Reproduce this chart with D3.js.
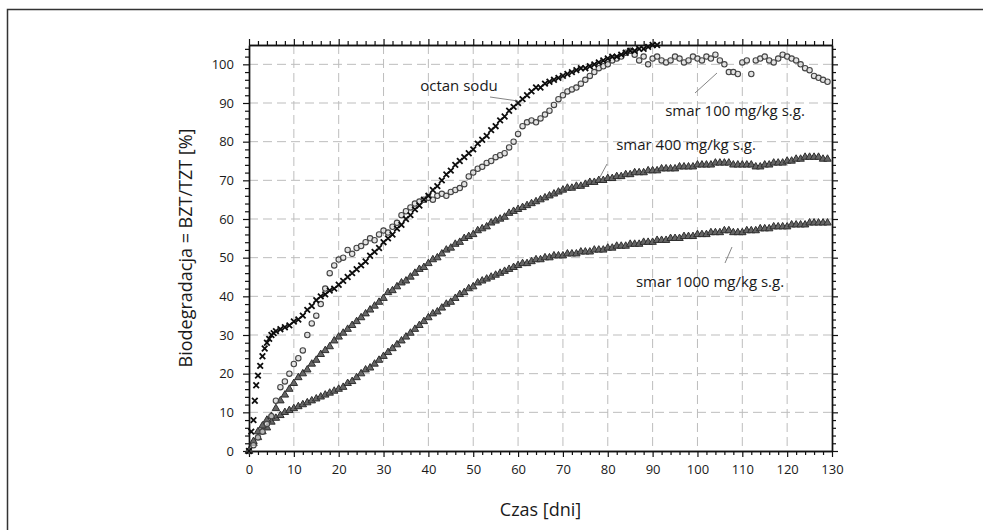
<!DOCTYPE html>
<html>
<head>
<meta charset="utf-8">
<script src="https://cdn.jsdelivr.net/npm/d3@7"></script>
<style>
  body { margin:0; background:#fff; }
  svg text { font-family:"Open Sans", "Noto Sans", sans-serif; fill:#1a1a1a; }
</style>
</head>
<body>
<svg id="chart" width="983" height="530"></svg>
<script>
// ---- data ----
const xTicks=[0,10,20,30,40,50,60,70,80,90,100,110,120,130];
const yTicks=[0,10,20,30,40,50,60,70,80,90,100];

// octan sodu (crosses)
const octanDays=[0,0.5,1,1.3,1.6,2,2.5,3,3.5,4,4.5,5,5.5,6,7,8,9,10,11,12,13,14,15,16,17,18,19,20,21,22,23,24,25,26,27,28,29,30,
  31,32,33,34,35,36,37,38,39,40,41,42,43,44,45,46,47,48,49,50,51,52,53,54,55,56,57,58,59,60,61,62,63,64,65,66,67,68,69,70,
  71,72,73,74,75,76,77,78,79,80,81,82,83,84,85,86,87,88,89,90,91];
const octanValues=[0,5,8,13,17,19.5,22,24.5,26.5,28,29,30,30.5,31,31.5,32,32.5,33.5,34,35,36.5,37.5,39,40,40.5,41.5,42,43,44,45,46,47,48,49,50.5,51.5,52.5,54,
  55,56,57.5,58.5,60,61,62.5,63.5,65,66,67.5,68.5,70,71.5,72.5,74,75,76,77,78,79.5,80.5,81.5,83,84,85.5,86.5,88,89,90,91,92,93,94,94,95,95.5,96,96.5,97,
  97.5,98,98.5,99,99,99.5,100,100.5,101,101.5,102,102,102.5,103,103.5,103.5,104,104,104.5,105,105];

// smar 100 mg/kg s.g. (circles)
const s100Days=d3.range(0,130);
const s100Values=[0,1.5,3.5,5,7,9,13,16.5,18,20,22.5,24,26,30,33,35,38,42,46,48,49.5,50,52,51,52.5,53,54,55,54.5,56,
  57,56.5,58,59,61,62,63,64,64.5,65,65.5,65,66,66.5,66,67,67.5,68,69,71,72,73,73.5,74.5,75,76,76.5,77,78.5,80,
  82,84,85,85.5,85,86,87,88,89.5,91,92,93,93.5,94,95,96,97,98,99,99.5,100,101,101.5,102,103,103.5,102.5,101,102,100,
  101.5,102,101,100.5,101,102,101.5,100.5,101,102,101.5,101,102,101.5,102.5,101,100,98,98,97.5,100.5,101,97.5,101,101.5,102,
  101,100.5,101.5,102.5,102,101.5,101,100,99,98.5,97,96.5,96,95.5];

// smar 400 mg/kg s.g. (triangles)
const s400Days=d3.range(0,130);
const s400Values=[0,2.5,5,6.5,8,9,11,13,14.5,16,17.5,19,20,21,22.5,23.5,25,26,27,28.5,29.5,30.5,31.5,32.5,33.5,34.5,35.5,36.5,37.5,38.5,
  39.5,41,41.5,42.5,43.5,44,45,46,47,47.5,48.5,49.5,50,51,52,52.5,53.5,54,55,55.5,56,57,57.5,58,59,59.5,60,60.5,61.5,62,
  62.5,63,63.5,64,64.5,65,65.5,66,66.5,67,67.5,68,68,68.5,68.5,69,69.5,69.5,70,70,70.5,70.5,71,71,71.5,71.5,72,72,72,72.5,
  72.5,72.5,73,73,73,73,73.5,73.5,73.5,73.5,74,74,74,74,74.5,74.5,74.5,74.5,74,74,74,74,74,73.5,73.5,74,74,74.5,74.5,74.5,
  75,75,75.5,75.5,76,76,76,76,75.5,75.5];

// smar 1000 mg/kg s.g. (triangles)
const s1000Days=d3.range(0,130);
const s1000Values=[0,2,3.5,5,6,7.5,8.5,9.2,10,10.5,11,11.5,12,12.5,13,13.5,14,14.5,15,15.5,16,16.5,17.5,18,19,20,21,21.5,22.5,23.5,
  24.5,25.5,26.5,27.5,28.5,29.5,30.5,31.5,32.5,33.5,34.5,35.5,36,37,38,38.5,39.5,40.5,41,42,42.5,43.5,44,44.5,45,45.5,46,46.5,47,47.5,
  48,48.5,48.5,49,49.5,49.5,50,50,50.5,50.5,50.5,51,51,51,51.5,51.5,51.5,52,52,52,52.5,52.5,53,53,53,53.5,53.5,53.5,54,54,
  54,54.5,54.5,54.5,55,55,55,55.5,55.5,55.5,56,56,56,56.5,56.5,56.5,57,57,56.5,56.5,56.5,57,57,57,57.5,57.5,57.5,58,58,58,
  58,58.5,58.5,58.5,58.5,59,59,59,59,59];

const labels=['octan sodu','smar 100 mg/kg s.g.','smar 400 mg/kg s.g.','smar 1000 mg/kg s.g.'];

// ---- layout ----
const svg=d3.select('#chart');
const pLeft=249, pRight=832, pTop=45, pBottom=451;

const x=d3.scaleLinear().domain([0,130]).range([pLeft,pRight]);
const y=d3.scaleLinear().domain([0,105]).range([pBottom,pTop]);

// outer frame (only top and left edges are inside the window)
svg.append('path')
   .attr('d','M7.5,531 L7.5,9.5 L984,9.5')
   .attr('fill','none').attr('stroke','#333').attr('stroke-width',1.5);

// dashed grid
const grid=svg.append('g').attr('class','grid');
grid.selectAll('line.v').data(xTicks.slice(1,-1)).join('line')
    .attr('x1',d=>x(d)).attr('x2',d=>x(d)).attr('y1',pTop).attr('y2',pBottom)
    .attr('stroke','#bdbdbd').attr('stroke-dasharray','9,5').attr('stroke-width',1);
grid.selectAll('line.h').data(yTicks.slice(1)).join('line')
    .attr('y1',d=>y(d)).attr('y2',d=>y(d)).attr('x1',pLeft).attr('x2',pRight)
    .attr('stroke','#bdbdbd').attr('stroke-dasharray','9,5').attr('stroke-width',1);

// axes: majors + minor ticks every 2 units, ticks outward on all four sides
const xMinor=d3.range(0,131,2).filter(d=>d%10!=0);
const yMinor=d3.range(0,106,2).filter(d=>d%10!=0);

function styleAxis(g) {
  g.select('.domain').attr('stroke','#111').attr('stroke-width',1.4);
  g.selectAll('.tick line').attr('stroke','#111').attr('stroke-width',1.2);
  g.selectAll('.tick text').attr('font-size',13).attr('fill','#1a1a1a');
}

svg.append('g').attr('transform',`translate(0,${pBottom})`)
   .call(d3.axisBottom(x).tickValues(xTicks).tickSize(6).tickSizeOuter(0).tickPadding(8))
   .call(styleAxis);
svg.append('g').attr('transform',`translate(0,${pBottom})`)
   .call(d3.axisBottom(x).tickValues(xMinor).tickSize(4).tickFormat('').tickSizeOuter(0))
   .call(styleAxis);

svg.append('g').attr('transform',`translate(0,${pTop})`)
   .call(d3.axisTop(x).tickValues(xTicks).tickSize(6).tickFormat('').tickSizeOuter(0))
   .call(styleAxis);
svg.append('g').attr('transform',`translate(0,${pTop})`)
   .call(d3.axisTop(x).tickValues(xMinor).tickSize(4).tickFormat('').tickSizeOuter(0))
   .call(styleAxis);

svg.append('g').attr('transform',`translate(${pLeft},0)`)
   .call(d3.axisLeft(y).tickValues(yTicks).tickSize(6).tickSizeOuter(0).tickPadding(9))
   .call(styleAxis);
svg.append('g').attr('transform',`translate(${pLeft},0)`)
   .call(d3.axisLeft(y).tickValues(yMinor).tickSize(4).tickFormat('').tickSizeOuter(0))
   .call(styleAxis);

svg.append('g').attr('transform',`translate(${pRight},0)`)
   .call(d3.axisRight(y).tickValues(yTicks).tickSize(6).tickFormat('').tickSizeOuter(0))
   .call(styleAxis);
svg.append('g').attr('transform',`translate(${pRight},0)`)
   .call(d3.axisRight(y).tickValues(yMinor).tickSize(4).tickFormat('').tickSizeOuter(0))
   .call(styleAxis);

// axis titles
svg.append('text')
   .attr('x',(pLeft+pRight)/2).attr('y',516)
   .attr('text-anchor','middle').attr('font-size',18)
   .text('Czas [dni]');
svg.append('text')
   .attr('transform',`translate(192,${(pTop+pBottom)/2}) rotate(-90)`)
   .attr('text-anchor','middle').attr('font-size',18)
   .text('Biodegradacja = BZT/TZT [%]');

// ---- markers ----
const plot=svg.append('g');
const tri=d3.symbol().type(d3.symbolTriangle).size(24);

function pts(days,vals) { return days.map((d,i)=>({d:d,v:vals[i]})); }

plot.append('g').selectAll('path').data(pts(s1000Days,s1000Values)).join('path')
    .attr('d',tri).attr('transform',p=>`translate(${x(p.d)},${y(p.v)})`)
    .attr('fill','#666').attr('stroke','#2e2e2e').attr('stroke-width',1);

plot.append('g').selectAll('path').data(pts(s400Days,s400Values)).join('path')
    .attr('d',tri).attr('transform',p=>`translate(${x(p.d)},${y(p.v)})`)
    .attr('fill','#666').attr('stroke','#2e2e2e').attr('stroke-width',1);

plot.append('g').selectAll('circle').data(pts(s100Days,s100Values)).join('circle')
    .attr('cx',p=>x(p.d)).attr('cy',p=>y(p.v)).attr('r',2.7)
    .attr('fill','#d8d8d8').attr('fill-opacity',0.7).attr('stroke','#444').attr('stroke-width',1.1);

plot.append('g').selectAll('path').data(pts(octanDays,octanValues)).join('path')
    .attr('d','M-2.8,-2.8L2.8,2.8M-2.8,2.8L2.8,-2.8')
    .attr('transform',p=>`translate(${x(p.d)},${y(p.v)})`)
    .attr('fill','none').attr('stroke','#0d0d0d').attr('stroke-width',1.8);

// ---- annotations ----
const ann=svg.append('g');
const annot=[
  {t:labels[0], tx:459, ty:91, l:[[490,97],[518,101]]},
  {t:labels[1], tx:735, ty:116, l:[[695,93],[717,73]]},
  {t:labels[2], tx:686, ty:150, l:[[600,177],[607,164]]},
  {t:labels[3], tx:710, ty:287, l:[[725,263],[732,247]]}
];
ann.selectAll('line').data(annot).join('line')
   .attr('x1',a=>a.l[0][0]).attr('y1',a=>a.l[0][1])
   .attr('x2',a=>a.l[1][0]).attr('y2',a=>a.l[1][1])
   .attr('stroke','#777').attr('stroke-width',0.9);
ann.selectAll('text').data(annot).join('text')
   .attr('x',a=>a.tx).attr('y',a=>a.ty)
   .attr('text-anchor','middle').attr('font-size',15)
   .text(a=>a.t);
</script>
</body>
</html>
